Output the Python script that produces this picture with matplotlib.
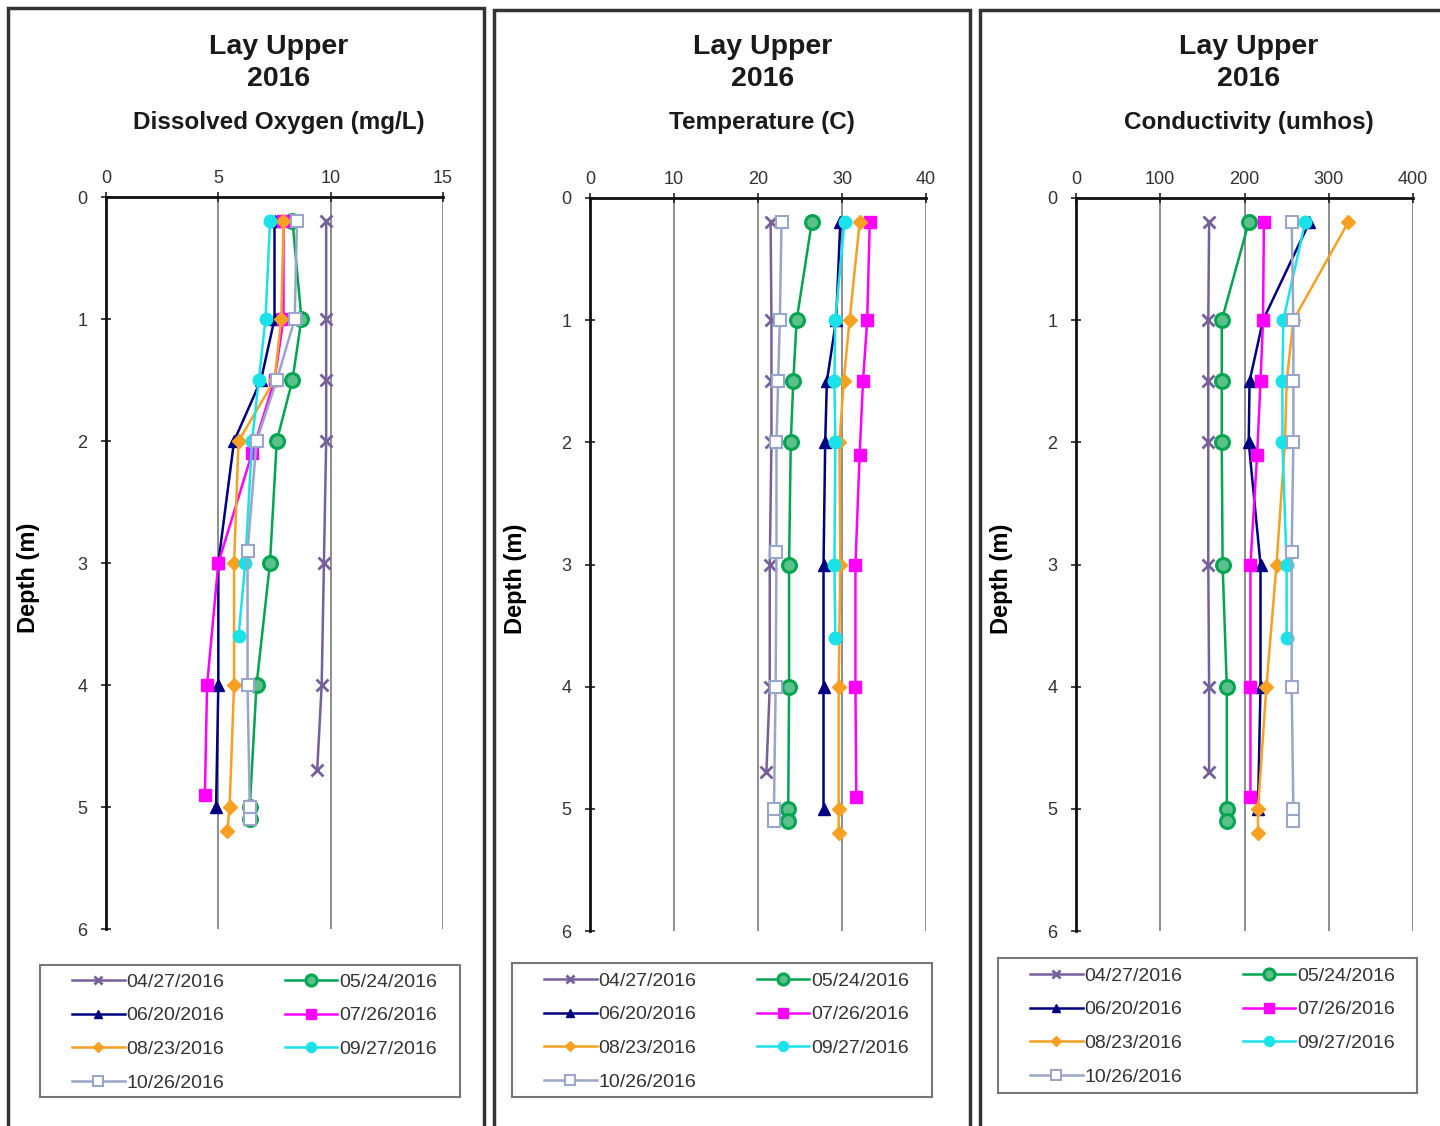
import matplotlib
matplotlib.use('Agg')
import matplotlib.pyplot as plt
from matplotlib.patches import Rectangle
import numpy as np

plt.rcParams['font.family'] = ['Liberation Sans', 'DejaVu Sans']

# sampling dates and the depths (m) sampled on each date
dates = ['04/27/2016', '05/24/2016', '06/20/2016', '07/26/2016',
         '08/23/2016', '09/27/2016', '10/26/2016']
depths = {
    '04/27/2016': [0.2, 1, 1.5, 2, 3, 4, 4.7],
    '05/24/2016': [0.2, 1, 1.5, 2, 3, 4, 5, 5.1],
    '06/20/2016': [0.2, 1, 1.5, 2, 3, 4, 5],
    '07/26/2016': [0.2, 1, 1.5, 2.1, 3, 4, 4.9],
    '08/23/2016': [0.2, 1, 1.5, 2, 3, 4, 5, 5.2],
    '09/27/2016': [0.2, 1, 1.5, 2, 3, 3.6],
    '10/26/2016': [0.2, 1, 1.5, 2, 2.9, 4, 5, 5.1],
}

# dissolved oxygen, mg/L
do_vals = {
    '04/27/2016': [9.8, 9.8, 9.8, 9.8, 9.7, 9.6, 9.4],
    '05/24/2016': [8.3, 8.7, 8.3, 7.6, 7.3, 6.7, 6.4, 6.4],
    '06/20/2016': [7.5, 7.5, 6.9, 5.7, 5.0, 5.0, 4.9],
    '07/26/2016': [7.9, 7.9, 7.5, 6.5, 5.0, 4.5, 4.4],
    '08/23/2016': [7.9, 7.8, 7.5, 5.9, 5.7, 5.7, 5.5, 5.4],
    '09/27/2016': [7.3, 7.1, 6.8, 6.5, 6.2, 5.9],
    '10/26/2016': [8.5, 8.4, 7.6, 6.7, 6.3, 6.3, 6.4, 6.4],
}

# temperature, C
temp_vals = {
    '04/27/2016': [21.5, 21.6, 21.6, 21.6, 21.4, 21.4, 21.0],
    '05/24/2016': [26.4, 24.6, 24.2, 23.9, 23.7, 23.7, 23.6, 23.6],
    '06/20/2016': [29.8, 29.3, 28.2, 28.0, 27.8, 27.8, 27.8],
    '07/26/2016': [33.3, 33.0, 32.5, 32.1, 31.6, 31.6, 31.7],
    '08/23/2016': [32.1, 30.9, 30.2, 29.7, 29.8, 29.6, 29.6, 29.6],
    '09/27/2016': [30.3, 29.2, 29.1, 29.2, 29.1, 29.2],
    '10/26/2016': [22.8, 22.6, 22.4, 22.2, 22.2, 22.1, 21.9, 21.9],
}

# conductivity, umhos
cond_vals = {
    '04/27/2016': [158, 157, 157, 157, 157, 158, 158],
    '05/24/2016': [205, 173, 173, 173, 174, 179, 179, 179],
    '06/20/2016': [277, 222, 206, 205, 219, 219, 216],
    '07/26/2016': [223, 222, 219, 215, 207, 207, 207],
    '08/23/2016': [323, 258, 250, 248, 238, 226, 216, 216],
    '09/27/2016': [272, 246, 245, 245, 250, 250],
    '10/26/2016': [256, 258, 258, 258, 256, 256, 258, 258],
}

panels = [
    ('Dissolved Oxygen (mg/L)', do_vals, 15, 5),
    ('Temperature (C)', temp_vals, 40, 10),
    ('Conductivity (umhos)', cond_vals, 400, 100),
]

styles = {
    '04/27/2016': dict(color='#76609A', marker='x', ms=8, mew=2, mfc='#76609A'),
    '05/24/2016': dict(color='#00A550', marker='o', ms=10, mew=2.2, mfc='#5CC08A'),
    '06/20/2016': dict(color='#000080', marker='^', ms=8, mew=1, mfc='#000080'),
    '07/26/2016': dict(color='#FF00FF', marker='s', ms=9, mew=1, mfc='#FF00FF'),
    '08/23/2016': dict(color='#F7A021', marker='D', ms=7, mew=1, mfc='#F7A021'),
    '09/27/2016': dict(color='#19E3E8', marker='o', ms=9, mew=1, mfc='#19E3E8'),
    '10/26/2016': dict(color='#9AA6C8', marker='s', ms=9, mew=1.5, mfc='white'),
}

W, H = 1440, 1126
fig = plt.figure(figsize=(W / 100, H / 100), dpi=100)

# pixel boxes: plot area left/right/top/bottom, panel frame left/right/top
plot_px = [(106, 443, 197, 929), (590, 926, 198, 931), (1076, 1413, 198, 931)]
frame_px = [(8, 484, 8), (494, 970, 10), (980, 1448, 10)]
# legend box left/right/top/bottom and where its first entry starts
legend_px = [(40, 460, 965, 1097), (512, 932, 963, 1097), (998, 1417, 958, 1093)]
legend_start = [(72, 973), (544, 972), (1030, 967)]
ylabel_x = [-0.196, -0.188, -0.187]

for i, (subtitle, vals, xmax, xstep) in enumerate(panels):
    l, r, t, b = plot_px[i]
    ax = fig.add_axes([l / W, 1 - b / H, (r - l) / W, (b - t) / H])

    lines = []
    for d in dates:
        ln, = ax.plot(vals[d], depths[d], lw=1.8, mec=styles[d]['color'], label=d,
                      **styles[d])
        lines.append(ln)

    ax.set_xlim(0, xmax)
    ax.set_ylim(6, 0)
    ax.set_xticks(np.arange(0, xmax + 1, xstep))
    ax.set_yticks(range(0, 7))
    ax.xaxis.tick_top()
    ax.tick_params(axis='both', direction='inout', length=7, width=1.2,
                   labelsize=13, labelcolor='#333333', color='#222222')
    ax.tick_params(axis='x', pad=4)
    ax.tick_params(axis='y', pad=10)
    ax.grid(axis='x', color='#7a7a7a', lw=1.2)
    ax.set_axisbelow(True)
    for s in ['right', 'bottom']:
        ax.spines[s].set_visible(False)
    for s in ['top', 'left']:
        ax.spines[s].set_linewidth(2)
        ax.spines[s].set_color('#111111')
    ax.set_ylabel('Depth (m)', fontsize=17, fontweight='bold')
    ax.yaxis.set_label_coords(ylabel_x[i], 0.48)

    # panel heading
    cx = (l + r) / 2 / W + 0.003
    fig.text(cx, 1 - 47 / H, 'Lay Upper', ha='center', va='center',
             fontsize=20.5, fontweight='bold', color='#1a1a1a')
    fig.text(cx, 1 - 79 / H, '2016', ha='center', va='center',
             fontsize=20.5, fontweight='bold', color='#1a1a1a')
    fig.text(cx, 1 - 123 / H, subtitle, ha='center', va='center',
             fontsize=17.5, fontweight='bold', color='#1a1a1a')

    # legend filled row by row, inside its own box
    order = [0, 2, 4, 6, 1, 3, 5]
    lx0, lx1, ly0, ly1 = legend_px[i]
    fig.patches.append(Rectangle((lx0 / W, 1 - ly1 / H), (lx1 - lx0) / W, (ly1 - ly0) / H,
                                 transform=fig.transFigure, fill=False,
                                 ec='#777777', lw=1.5))
    sx, sy = legend_start[i]
    leg = ax.legend([lines[k] for k in order], [dates[k] for k in order],
                    ncol=2, loc='upper left', bbox_to_anchor=(sx / W, 1 - sy / H),
                    bbox_transform=fig.transFigure, fontsize=14, frameon=False,
                    handlelength=2.7, handletextpad=0.1, labelspacing=0.83,
                    borderpad=0, borderaxespad=0, columnspacing=3.1,
                    markerscale=0.8)
    for txt in leg.get_texts():
        txt.set_color('#333333')

    # panel frame
    fx0, fx1, fy0 = frame_px[i]
    fig.patches.append(Rectangle((fx0 / W, -0.02), (fx1 - fx0) / W, 1 - fy0 / H + 0.02,
                                 transform=fig.transFigure, fill=False,
                                 ec='#333333', lw=2.5))

fig.savefig('out.png', dpi=100)
